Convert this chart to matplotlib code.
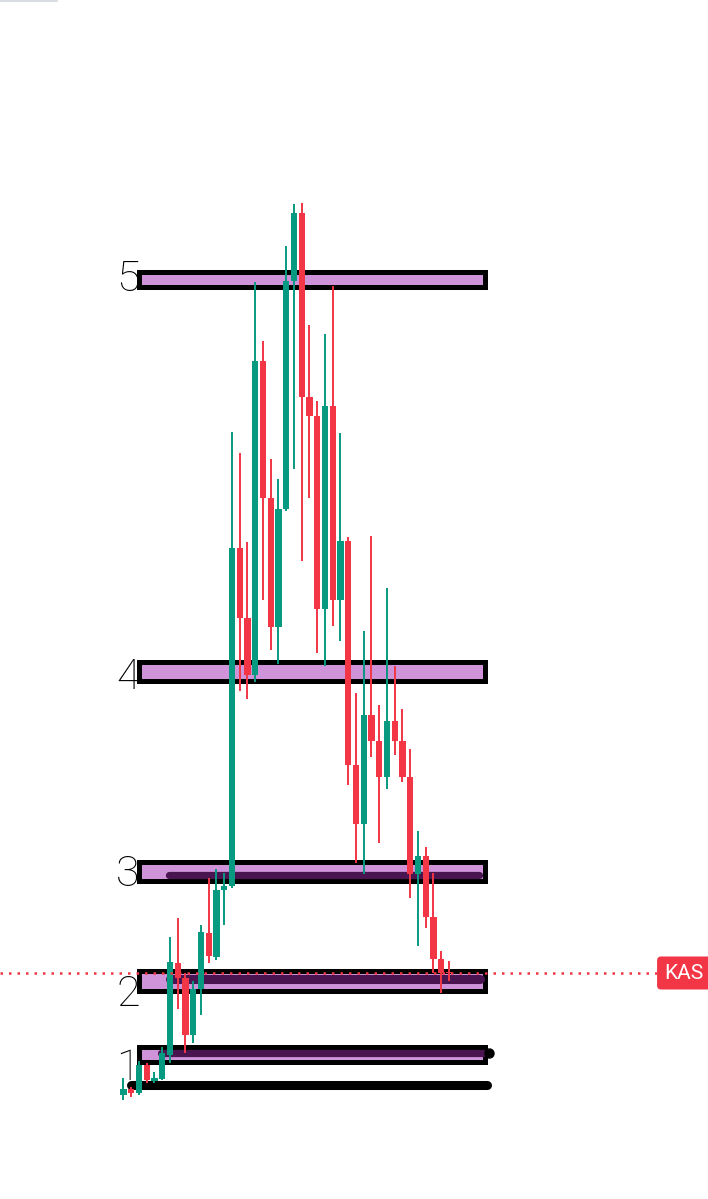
import numpy as np
import matplotlib.pyplot as plt
from matplotlib.lines import Line2D
from matplotlib.patches import Rectangle, FancyBboxPatch

########################## KAS candles ##########################
opens = [0.0208, 0.0220, 0.0212, 0.0268, 0.0236, 0.0240, 0.0288, 0.0472, 0.0442, 0.0328,
         0.0420, 0.0532, 0.0484, 0.0618, 0.0626, 0.1302, 0.1162, 0.1048, 0.1676, 0.1402,
         0.1144, 0.1380, 0.1836, 0.1972, 0.1604, 0.1566, 0.1180, 0.1586, 0.1198, 0.1316,
         0.0868, 0.0750, 0.0968, 0.0916, 0.0844, 0.0956, 0.0916, 0.0844, 0.0650, 0.0686,
         0.0564, 0.0480, 0.0454]
highs = [0.0242, 0.0224, 0.0276, 0.0272, 0.0254, 0.0304, 0.0524, 0.0562, 0.0452, 0.0436,
         0.0548, 0.0642, 0.0660, 0.0652, 0.1534, 0.1492, 0.1314, 0.1834, 0.1716, 0.1480,
         0.1440, 0.1906, 0.1990, 0.1992, 0.1748, 0.1596, 0.1730, 0.1826, 0.1532, 0.1324,
         0.1012, 0.1136, 0.1326, 0.0988, 0.1222, 0.1066, 0.0980, 0.0900, 0.0736, 0.0704,
         0.0652, 0.0496, 0.0476]
lows = [0.0198, 0.0204, 0.0208, 0.0232, 0.0232, 0.0238, 0.0272, 0.0380, 0.0292, 0.0312,
        0.0368, 0.0472, 0.0478, 0.0548, 0.0622, 0.1016, 0.1000, 0.1034, 0.1198, 0.1098,
        0.1070, 0.1376, 0.1460, 0.1276, 0.1402, 0.1092, 0.1066, 0.1146, 0.1116, 0.0828,
        0.0672, 0.0650, 0.0884, 0.0712, 0.0820, 0.0888, 0.0834, 0.0602, 0.0506, 0.0542,
        0.0452, 0.0412, 0.0436]
closes = [0.0220, 0.0212, 0.0268, 0.0238, 0.0242, 0.0292, 0.0474, 0.0442, 0.0328, 0.0420,
          0.0534, 0.0486, 0.0618, 0.0626, 0.1302, 0.1162, 0.1048, 0.1676, 0.1402, 0.1144,
          0.1380, 0.1836, 0.1972, 0.1604, 0.1566, 0.1180, 0.1586, 0.1198, 0.1316, 0.0868,
          0.0750, 0.0968, 0.0916, 0.0844, 0.0956, 0.0916, 0.0844, 0.0650, 0.0686, 0.0564,
          0.0480, 0.0452, 0.0452]

# drawn zones (boxes) and their numbers
zone_labels = ["5", "4", "3", "2", "1"]
zone_tops = [0.1855, 0.1075, 0.0674, 0.0457, 0.0305]
zone_bottoms = [0.1824, 0.1037, 0.0637, 0.0416, 0.0275]
label_levels = [0.1816, 0.1020, 0.0626, 0.0386, 0.0238]
# darker bars inside zones 3, 2, 1 and the bottom black line
inner_levels = [0.0648, 0.0441, 0.0293]
base_level = 0.0229
symbol = "KAS"

GREEN = "#089981"
RED = "#f23645"
LILAC = "#ce93d8"
DARK = "#4a1450"

fig = plt.figure(figsize=(7.08, 11.99), dpi=100)
ax = fig.add_axes([0, 0, 1, 1])
ax.set_xlim(-15.935, 75.42)
ax.set_ylim(0, 0.2398)
ax.axis("off")

# zones
zl, zr = 2.06, 46.7
for top, bot in zip(zone_tops, zone_bottoms):
    ax.add_patch(Rectangle((zl, bot), zr - zl, top - bot, facecolor=LILAC,
                           edgecolor="black", lw=3.6, zorder=2))

# darker rounded bars inside the lower zones
inner_x = [(5.9, 45.9), (5.94, 46.06), (4.9, 46.45)]
inner_lw = [5.2, 6.5, 5.2]
for lvl, (x0, x1), lw in zip(inner_levels, inner_x, inner_lw):
    ax.plot([x0, x1], [lvl, lvl], color=DARK, lw=lw, solid_capstyle="round", zorder=3)
ax.plot([47.1], [inner_levels[-1]], "o", color="black", ms=6.5, zorder=3)

# black base line
ax.plot([1.03, 46.84], [base_level, base_level], color="black", lw=6.5,
        solid_capstyle="round", zorder=3)

# zone numbers
for lab, lvl in zip(zone_labels, label_levels):
    ax.text(2.1, lvl, lab, ha="right", va="baseline", fontsize=31,
            family="Roboto", fontweight="light", color="black", zorder=4)

# candles
o = np.array(opens); h = np.array(highs); l = np.array(lows); c = np.array(closes)
idx = np.arange(len(o))
colors = np.where(c >= o, GREEN, RED)
ax.vlines(idx, l, h, colors=colors, lw=1.4, zorder=5)
ax.bar(idx, np.abs(c - o), bottom=np.minimum(o, c), width=0.82, color=colors,
       edgecolor="none", zorder=6)

# last price line + tag (tag runs off the right edge)
ax.axhline(c[-1], color=RED, lw=1.8, ls=(0, (1, 2.4)), zorder=7)
px_x, px_y = 1 / 7.75, 0.0002
tag = FancyBboxPatch((68.85, c[-1] - 16.5 * px_y), 12, 33 * px_y,
                     boxstyle="round,pad=0,rounding_size=%.3f" % (4 * px_x),
                     mutation_aspect=px_y / px_x, fc=RED, ec="none", zorder=8)
ax.add_patch(tag)
ax.text(69.8, c[-1] - 0.6 * px_y, symbol, color="white", fontsize=15, family="Roboto",
        ha="left", va="center", zorder=9)

# thin grey line at the very top left
fig.add_artist(Line2D([0, 57 / 708], [1 - 0.6 / 1199] * 2, color="#d1d4dc", lw=1.2))

fig.savefig("out.png", dpi=100, facecolor="white")
